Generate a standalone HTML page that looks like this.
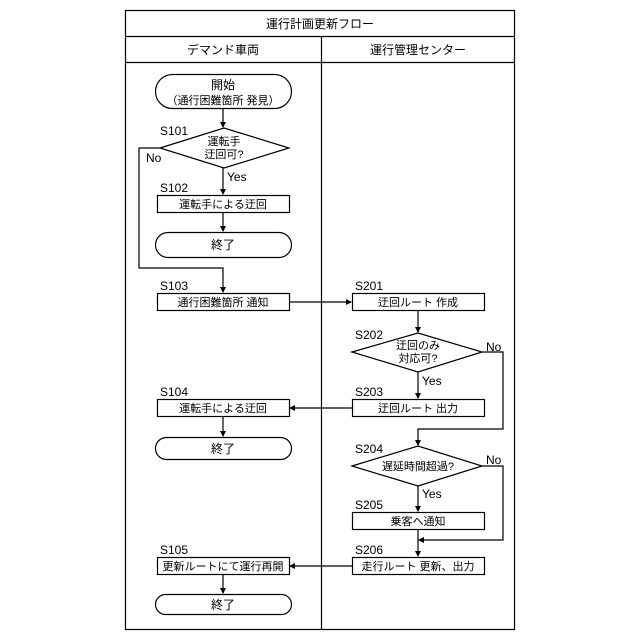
<!DOCTYPE html>
<html><head><meta charset="utf-8"><style>
html,body{margin:0;padding:0;background:#fff;width:640px;height:640px;overflow:hidden}
svg{display:block}
text{font-family:"Liberation Sans","Noto Sans CJK JP",sans-serif;fill:#000}
.j{font-size:11px}
.s{font-size:12px}
</style></head><body>
<svg width="640" height="640" viewBox="0 0 640 640">
<defs><marker id="a" markerWidth="6" markerHeight="6" refX="5" refY="3" orient="auto" markerUnits="userSpaceOnUse"><path d="M0,0 L6,3 L0,6 z" fill="#000"/></marker></defs>
<g fill="none" stroke="#000" stroke-width="1.2">
<rect x="125.5" y="10.5" width="389" height="619"/>
<line x1="125" y1="36.5" x2="515" y2="36.5"/>
<line x1="125" y1="62.5" x2="515" y2="62.5"/>
<line x1="321.5" y1="36" x2="321.5" y2="630"/>
<!-- left lane -->
<rect x="155.5" y="74.5" width="136" height="34" rx="17"/>
<line x1="223" y1="108" x2="223" y2="127" marker-end="url(#a)"/>
<polygon points="160,148 224,128 289,148 224,168"/>
<line x1="223" y1="168" x2="223" y2="194" marker-end="url(#a)"/>
<rect x="157.5" y="195.5" width="132" height="17"/>
<line x1="223" y1="213" x2="223" y2="231" marker-end="url(#a)"/>
<rect x="155.5" y="232.5" width="136" height="25" rx="12.5"/>
<polyline points="160,148 139,148 139,268 223,268 223,292" marker-end="url(#a)"/>
<rect x="157.5" y="293.5" width="132" height="17"/>
<line x1="289" y1="302" x2="351" y2="302" marker-end="url(#a)"/>
<rect x="157.5" y="399.5" width="132" height="17"/>
<line x1="223" y1="417" x2="223" y2="436" marker-end="url(#a)"/>
<rect x="155.5" y="437.5" width="136" height="22" rx="11"/>
<rect x="157.5" y="557.5" width="132" height="17"/>
<line x1="223" y1="575" x2="223" y2="593" marker-end="url(#a)"/>
<rect x="155.5" y="594.5" width="136" height="20" rx="10"/>
<!-- right lane -->
<rect x="352.5" y="293.5" width="132" height="17"/>
<line x1="418" y1="311" x2="418" y2="332" marker-end="url(#a)"/>
<polygon points="352,352 418,333 482,352 418,372"/>
<line x1="418" y1="372" x2="418" y2="398" marker-end="url(#a)"/>
<rect x="352.5" y="399.5" width="132" height="17"/>
<line x1="352" y1="408" x2="290" y2="408" marker-end="url(#a)"/>
<polyline points="482,352 503,352 503,429 418,429 418,445" marker-end="url(#a)"/>
<polygon points="352,466 418,446 482,466 418,486"/>
<line x1="418" y1="486" x2="418" y2="511" marker-end="url(#a)"/>
<rect x="352.5" y="512.5" width="132" height="17"/>
<line x1="418" y1="530" x2="418" y2="556" marker-end="url(#a)"/>
<polyline points="482,466 503,466 503,540 419,540" marker-end="url(#a)"/>
<rect x="352.5" y="557.5" width="132" height="17"/>
<line x1="352" y1="566" x2="290" y2="566" marker-end="url(#a)"/>
</g>
<g text-anchor="middle">
<text x="320" y="28" class="s">運行計画更新フロー</text>
<text x="223" y="54" class="s">デマンド車両</text>
<text x="418" y="54" class="s">運行管理センター</text>
<text x="223" y="89" class="s">開始</text>
<text x="223" y="104" class="j">（通行困難箇所 発見）</text>
<text x="224" y="145" class="j">運転手</text>
<text x="224" y="158" class="j">迂回可?</text>
<text x="223" y="208" class="j">運転手による迂回</text>
<text x="223" y="249" class="s">終了</text>
<text x="223" y="306" class="j">通行困難箇所 通知</text>
<text x="223" y="412" class="j">運転手による迂回</text>
<text x="223" y="453" class="s">終了</text>
<text x="223" y="570" class="j">更新ルートにて運行再開</text>
<text x="223" y="609" class="s">終了</text>
<text x="418" y="306" class="j">迂回ルート 作成</text>
<text x="418" y="349" class="j">迂回のみ</text>
<text x="418" y="362" class="j">対応可?</text>
<text x="418" y="412" class="j">迂回ルート 出力</text>
<text x="418" y="470" class="j">遅延時間超過?</text>
<text x="418" y="525" class="j">乗客へ通知</text>
<text x="418" y="570" class="j">走行ルート 更新、出力</text>
</g>
<g class="s">
<text x="160" y="135">S101</text>
<text x="146" y="162">No</text>
<text x="227" y="181">Yes</text>
<text x="160" y="192">S102</text>
<text x="160" y="290">S103</text>
<text x="160" y="396">S104</text>
<text x="160" y="554">S105</text>
<text x="355" y="290">S201</text>
<text x="355" y="339">S202</text>
<text x="486" y="351">No</text>
<text x="422" y="385">Yes</text>
<text x="355" y="396">S203</text>
<text x="355" y="453">S204</text>
<text x="486" y="464">No</text>
<text x="422" y="498">Yes</text>
<text x="355" y="509">S205</text>
<text x="355" y="554">S206</text>
</g>
</svg>
</body></html>
